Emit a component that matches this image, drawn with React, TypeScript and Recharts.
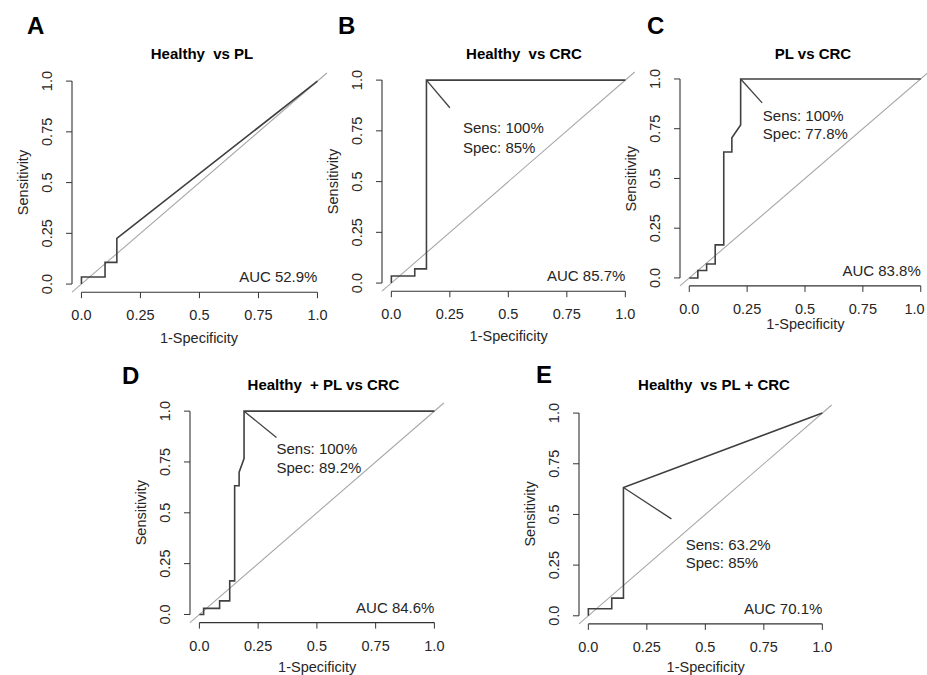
import { Line, LineChart, ReferenceDot, ReferenceLine, XAxis, YAxis } from "recharts";

// axis ticks (same for both axes of every panel)
const axisTicks = [0, 0.25, 0.5, 0.75, 1];
const tickLabels = ["0.0", "0.25", "0.5", "0.75", "1.0"];

const panelLetters = ["A", "B", "C", "D", "E"];
const panelTitles = ["Healthy  vs PL", "Healthy  vs CRC", "PL vs CRC", "Healthy  + PL vs CRC", "Healthy  vs PL + CRC"];
const aucLabels = ["AUC 52.9%", "AUC 85.7%", "AUC 83.8%", "AUC 84.6%", "AUC 70.1%"];
const sensLabels = ["", "Sens: 100%", "Sens: 100%", "Sens: 100%", "Sens: 63.2%"];
const specLabels = ["", "Spec: 85%", "Spec: 77.8%", "Spec: 89.2%", "Spec: 85%"];

// ROC curves (1-specificity, sensitivity)
const fprA = [0, 0, 0.1, 0.1, 0.15, 0.15, 1];
const tprA = [0, 0.035, 0.035, 0.107, 0.107, 0.225, 1];
const fprB = [0, 0, 0.1, 0.1, 0.15, 0.15, 1];
const tprB = [0, 0.035, 0.035, 0.07, 0.07, 1, 1];
const fprC = [0, 0.037, 0.037, 0.075, 0.075, 0.112, 0.112, 0.149, 0.149, 0.184, 0.184, 0.222, 0.222, 1];
const tprC = [0, 0, 0.037, 0.037, 0.07, 0.07, 0.166, 0.166, 0.633, 0.633, 0.704, 0.769, 1, 1];
const fprD = [0, 0.018, 0.018, 0.086, 0.086, 0.129, 0.129, 0.15, 0.15, 0.169, 0.169, 0.19, 0.19, 1];
const tprD = [0, 0, 0.03, 0.03, 0.067, 0.067, 0.165, 0.165, 0.633, 0.633, 0.7, 0.767, 1, 1];
const fprE = [0, 0, 0.1, 0.1, 0.15, 0.15, 1];
const tprE = [0, 0.035, 0.035, 0.087, 0.087, 0.633, 1];

// best threshold pointer: [x0, y0, x1, y1]
const pointerB = [0.15, 1, 0.25, 0.864];
const pointerC = [0.222, 1, 0.315, 0.88];
const pointerD = [0.19, 1, 0.328, 0.87];
const pointerE = [0.15, 0.633, 0.355, 0.478];

// text anchor of the Sens/Spec lines: [x, sensY, specY]
const threshTextB = [0.306, 0.737, 0.639];
const threshTextC = [0.318, 0.79, 0.7];
const threshTextD = [0.328, 0.787, 0.696];
const threshTextE = [0.416, 0.326, 0.234];

const FONT = "'Liberation Sans', Arial, sans-serif";
const TEXT = "#262626";
const AXIS = "#333";
const LO = -0.04;
const HI = 1.04;
const PAGE_W = 927;

type Pt = { x: number; y: number };
const toPoints = (xs: number[], ys: number[]): Pt[] => xs.map((x, i) => ({ x, y: ys[i] }));
const segPoints = (s: number[]): Pt[] => [
  { x: s[0], y: s[1] },
  { x: s[2], y: s[3] },
];

// plot boxes in page px (the [-0.04, 1.04] region), plus title/label placement
const panels = [
  { box: { x: 71.6, y: 72.9, w: 254.9, h: 219.2 }, titleX: 202, titleY: 59, letterX: 27, letterY: 34, xLabY: 343, curve: toPoints(fprA, tprA), pointer: null, thr: null },
  { box: { x: 382.3, y: 71.9, w: 252.7, h: 219.2 }, titleX: 524, titleY: 59, letterX: 338, letterY: 34, xLabY: 341, curve: toPoints(fprB, tprB), pointer: pointerB, thr: threshTextB },
  { box: { x: 680.4, y: 71.3, w: 250, h: 214.9 }, titleX: 813, titleY: 59, letterX: 647, letterY: 34, xLabY: 329, curve: toPoints(fprC, tprC), pointer: pointerC, thr: threshTextC },
  { box: { x: 190.3, y: 402.9, w: 253.8, h: 219.6 }, titleX: 323.5, titleY: 390, letterX: 122, letterY: 384, xLabY: 672, curve: toPoints(fprD, tprD), pointer: pointerD, thr: threshTextD },
  { box: { x: 579.3, y: 404.5, w: 252.7, h: 218.9 }, titleX: 714, titleY: 390, letterX: 536, letterY: 383, xLabY: 672, curve: toPoints(fprE, tprE), pointer: pointerE, thr: threshTextE },
];

const fmtTick = (v: number) => tickLabels[axisTicks.indexOf(v)] ?? String(v);

const ML = 70;
const MT = 10;
const MR = 12;
const MB = 60;

function XTick(props: any) {
  const { x, y, payload, pageLeft } = props;
  // keep the last label inside the page (panel C sits at the right edge)
  const overflow = pageLeft + x + 11 - (PAGE_W - 1);
  const shift = overflow > 0 ? overflow : 0;
  return (
    <text x={x - shift} y={y + 22} textAnchor="middle" fontFamily={FONT} fontSize={14.5} fill={TEXT}>
      {fmtTick(payload.value)}
    </text>
  );
}

function YTick(props: any) {
  const { x, y, payload } = props;
  return (
    <text transform={`translate(${x - 14},${y}) rotate(-90)`} textAnchor="middle" fontFamily={FONT} fontSize={14.5} fill={TEXT}>
      {fmtTick(payload.value)}
    </text>
  );
}

const textLabel = (value: string, anchor: "start" | "end") => (p: any) => (
  <text x={p.viewBox.x} y={p.viewBox.y} textAnchor={anchor} fontFamily={FONT} fontSize={15} fill={TEXT}>
    {value}
  </text>
);

function RocPanel({ idx }: { idx: number }) {
  const p = panels[idx];
  const width = p.box.w + ML + MR;
  const height = p.box.h + MT + MB;
  const pageLeft = p.box.x - ML;
  return (
    <div style={{ position: "absolute", left: pageLeft, top: p.box.y - MT }}>
      <LineChart width={width} height={height} margin={{ top: MT, right: MR, bottom: 0, left: 0 }}>
        <XAxis
          type="number"
          dataKey="x"
          domain={[LO, HI]}
          ticks={axisTicks}
          interval={0}
          allowDataOverflow
          axisLine={false}
          tickLine={{ stroke: AXIS }}
          tickSize={6}
          tickMargin={0}
          height={MB}
          tick={<XTick pageLeft={pageLeft} />}
        />
        <YAxis
          type="number"
          dataKey="y"
          domain={[LO, HI]}
          ticks={axisTicks}
          interval={0}
          allowDataOverflow
          axisLine={false}
          tickLine={{ stroke: AXIS }}
          tickSize={6}
          tickMargin={0}
          width={ML}
          tick={<YTick />}
        />
        <ReferenceLine segment={[{ x: LO, y: LO }, { x: HI, y: HI }]} stroke="#a8a8a8" strokeWidth={1.1} ifOverflow="visible" />
        <ReferenceLine segment={[{ x: 0, y: LO }, { x: 1, y: LO }]} stroke={AXIS} strokeWidth={1.1} ifOverflow="visible" />
        <ReferenceLine segment={[{ x: LO, y: 0 }, { x: LO, y: 1 }]} stroke={AXIS} strokeWidth={1.1} ifOverflow="visible" />
        <Line data={p.curve} dataKey="y" type="linear" stroke="#404040" strokeWidth={1.6} dot={false} isAnimationActive={false} />
        {p.pointer ? (
          <Line data={segPoints(p.pointer)} dataKey="y" type="linear" stroke="#404040" strokeWidth={1.3} dot={false} isAnimationActive={false} />
        ) : null}
        {p.thr ? <ReferenceDot x={p.thr[0]} y={p.thr[1]} r={0} fill="none" stroke="none" label={textLabel(sensLabels[idx], "start")} /> : null}
        {p.thr ? <ReferenceDot x={p.thr[0]} y={p.thr[2]} r={0} fill="none" stroke="none" label={textLabel(specLabels[idx], "start")} /> : null}
        <ReferenceDot x={1} y={0.008} r={0} fill="none" stroke="none" label={textLabel(aucLabels[idx], "end")} />
      </LineChart>
    </div>
  );
}

export default function App() {
  return (
    <div style={{ position: "absolute", left: 0, top: 0, width: PAGE_W, height: 675, overflow: "hidden", background: "#fff" }}>
      {panels.map((_, i) => (
        <RocPanel key={i} idx={i} />
      ))}
      <svg width={PAGE_W} height={675} style={{ position: "absolute", left: 0, top: 0, pointerEvents: "none" }}>
        {panels.map((p, i) => (
          <g key={i}>
            <text x={p.letterX} y={p.letterY} fontFamily={FONT} fontWeight="bold" fontSize={24} fill="#000">
              {panelLetters[i]}
            </text>
            <text x={p.titleX} y={p.titleY} textAnchor="middle" fontFamily={FONT} fontWeight="bold" fontSize={15} fill="#000" style={{ whiteSpace: "pre" }}>
              {panelTitles[i]}
            </text>
            <text x={p.box.x + p.box.w / 2} y={p.xLabY} textAnchor="middle" fontFamily={FONT} fontSize={14.5} fill={TEXT}>
              1-Specificity
            </text>
            <text
              transform={`translate(${p.box.x - 44},${p.box.y + p.box.h / 2}) rotate(-90)`}
              textAnchor="middle"
              fontFamily={FONT}
              fontSize={14.5}
              fill={TEXT}
            >
              Sensitivity
            </text>
          </g>
        ))}
      </svg>
    </div>
  );
}
